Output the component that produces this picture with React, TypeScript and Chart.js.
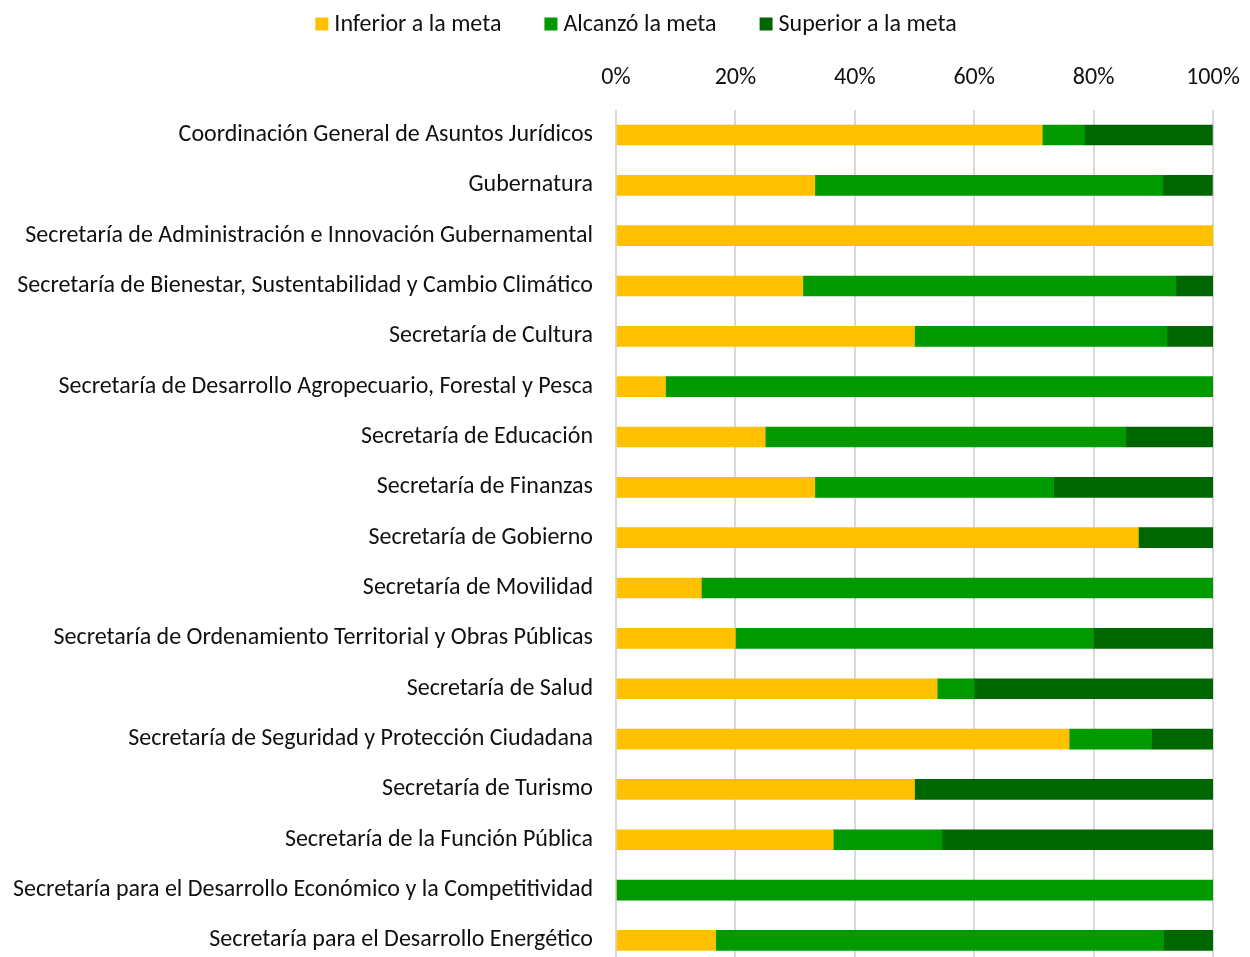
import React, { useEffect, useRef } from "react";
import { Chart, registerables } from "chart.js";

Chart.register(...registerables);

const categories = [
  "Coordinación General de Asuntos Jurídicos",
  "Gubernatura",
  "Secretaría de Administración e Innovación Gubernamental",
  "Secretaría de Bienestar, Sustentabilidad y Cambio Climático",
  "Secretaría de Cultura",
  "Secretaría de Desarrollo Agropecuario, Forestal y Pesca",
  "Secretaría de Educación",
  "Secretaría de Finanzas",
  "Secretaría de Gobierno",
  "Secretaría de Movilidad",
  "Secretaría de Ordenamiento Territorial y Obras Públicas",
  "Secretaría de Salud",
  "Secretaría de Seguridad y Protección Ciudadana",
  "Secretaría de Turismo",
  "Secretaría de la Función Pública",
  "Secretaría para el Desarrollo Económico y la Competitividad",
  "Secretaría para el Desarrollo Energético",
];

const seriesNames = ["Inferior a la meta", "Alcanzó la meta", "Superior a la meta"];

const inferior = [71.4, 33.3, 100, 31.3, 50, 8.3, 25, 33.3, 87.5, 14.3, 20, 53.8, 75.9, 50, 36.4, 0, 16.7];
const alcanzo = [7.1, 58.3, 0, 62.5, 42.3, 91.7, 60.4, 40, 0, 85.7, 60, 6.2, 13.8, 0, 18.2, 100, 75];
const superior = [21.4, 8.3, 0, 6.3, 7.7, 0, 14.6, 26.7, 12.5, 0, 20, 40, 10.3, 50, 45.5, 0, 8.3];

const xTicks = [0, 20, 40, 60, 80, 100];

const colors = ["#FFC000", "#009900", "#006600"];
const FONT = "Calibri, Carlito, Lato, sans-serif";
const FS = 24;

const legendPlugin = {
  id: "customLegend",
  afterDraw(chart: any) {
    const ctx = chart.ctx;
    ctx.save();
    ctx.font = `${FS}px ${FONT}`;
    ctx.textBaseline = "middle";
    ctx.textAlign = "left";
    const box = 13;
    const gap = 6;
    const spacing = 43;
    const items = chart.data.datasets.map((d: any) => ({
      label: d.label,
      color: d.backgroundColor,
      w: ctx.measureText(d.label).width,
    }));
    const total =
      items.reduce((s: number, it: any) => s + box + gap + it.w, 0) + spacing * (items.length - 1);
    let x = chart.width / 2 + 11 - total / 2;
    const y = 24;
    for (const it of items) {
      ctx.fillStyle = it.color;
      ctx.fillRect(x, y - box / 2, box, box);
      ctx.fillStyle = "#111";
      ctx.fillText(it.label, x + box + gap, y + 1);
      x += box + gap + it.w + spacing;
    }
    ctx.restore();
  },
};

export default function App() {
  const ref = useRef<HTMLCanvasElement>(null);
  useEffect(() => {
    document.body.style.margin = "0";
    document.body.style.overflow = "hidden";
    const canvas = ref.current!;
    const chart = new Chart(canvas, {
      type: "bar",
      data: {
        labels: categories,
        datasets: [inferior, alcanzo, superior].map((vals, i) => ({
          label: seriesNames[i],
          data: vals,
          backgroundColor: colors[i],
          borderWidth: 0,
          barThickness: 20,
        })),
      },
      options: {
        indexAxis: "y",
        responsive: false,
        animation: false,
        devicePixelRatio: 1,
        layout: { padding: { top: 62, right: 37, bottom: 0, left: 0 } },
        plugins: {
          legend: { display: false },
          tooltip: { enabled: false },
        },
        scales: {
          x: {
            position: "top",
            stacked: true,
            min: 0,
            max: 100,
            afterBuildTicks: (scale: any) => {
              scale.ticks = xTicks.map((v) => ({ value: v }));
            },
            ticks: {
              callback: (v: any) => `${v}%`,
              font: { size: FS, family: FONT },
              color: "#111",
              padding: 2,
              maxRotation: 0,
            },
            grid: {
              color: "#d9d9d9",
              lineWidth: 2,
              drawTicks: true,
              tickLength: 15,
              tickColor: "rgba(0,0,0,0)",
            },
            border: { display: false },
          },
          y: {
            stacked: true,
            afterFit: (scale: any) => {
              scale.width = 616;
            },
            ticks: {
              font: { size: FS, family: FONT },
              color: "#111",
              padding: 0,
              autoSkip: false,
            },
            grid: {
              display: true,
              drawOnChartArea: false,
              drawTicks: true,
              tickLength: 23,
              tickColor: "rgba(0,0,0,0)",
            },
            border: { display: false },
          },
        },
      },
      plugins: [legendPlugin],
    } as any);
    return () => chart.destroy();
  }, []);
  return (
    <div style={{ width: 1250, height: 980 }}>
      <canvas ref={ref} width={1250} height={980} style={{ display: "block" }} />
    </div>
  );
}
